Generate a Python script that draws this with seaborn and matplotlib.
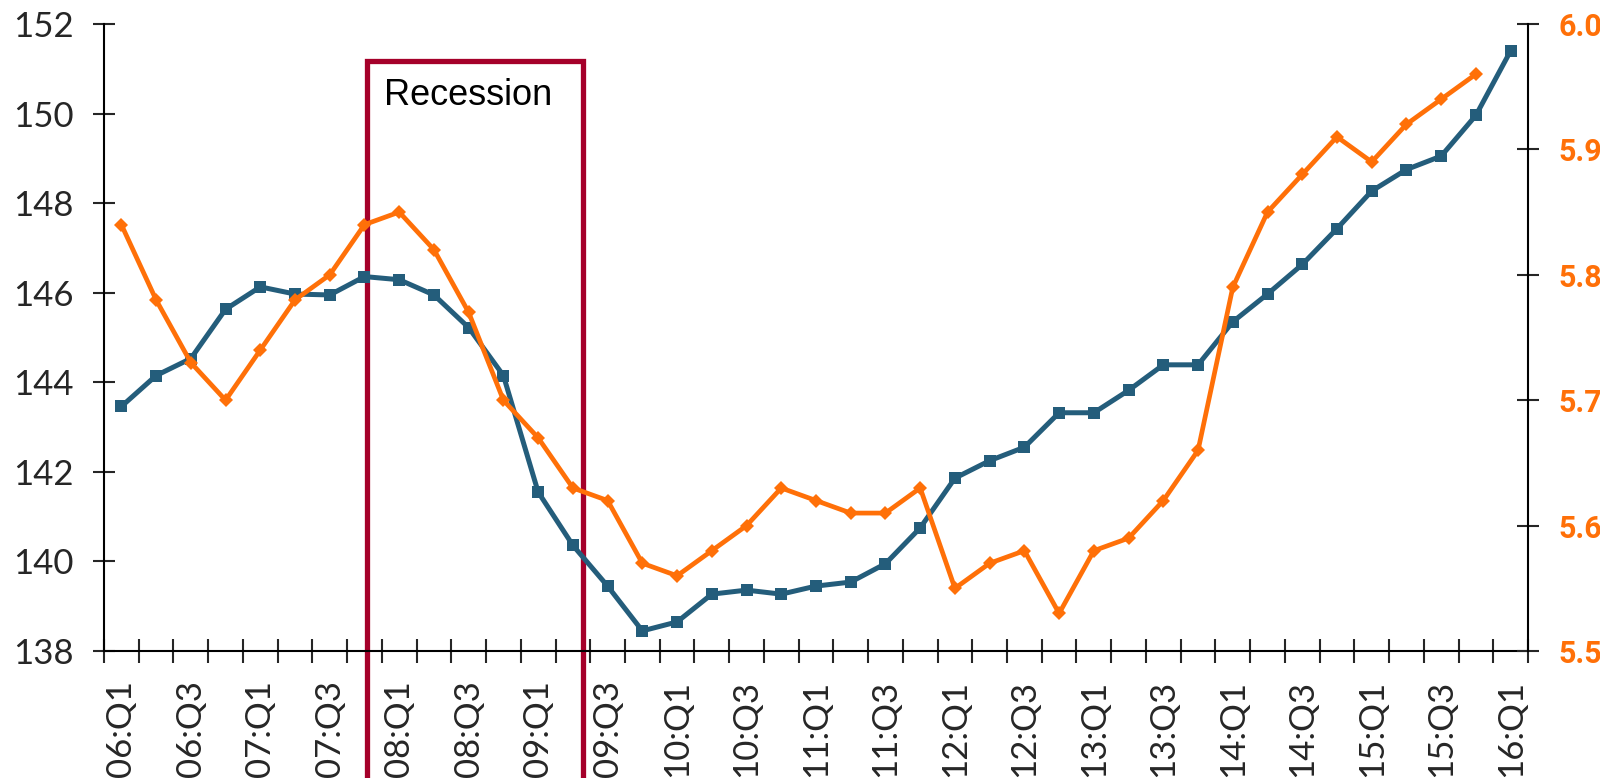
import matplotlib
matplotlib.use("Agg")
import matplotlib.pyplot as plt
import matplotlib.patches as mpatches
from matplotlib.ticker import FixedLocator
import seaborn as sns
import pandas as pd

# quarters 06:Q1 .. 16:Q1
quarters = [f"{y:02d}:Q{q}" for y in range(6, 16) for q in range(1, 5)] + ["16:Q1"]

blue_vals = [143.46, 144.15, 144.53, 145.63, 146.13, 145.97, 145.95, 146.36,
             146.29, 145.95, 145.22, 144.15, 141.55, 140.36, 139.45, 138.45,
             138.65, 139.27, 139.36, 139.27, 139.45, 139.54, 139.95, 140.75,
             141.86, 142.25, 142.55, 143.32, 143.32, 143.82, 144.39, 144.39,
             145.35, 145.97, 146.63, 147.43, 148.27, 148.75, 149.05, 149.96,
             151.40]

orange_vals = [5.84, 5.78, 5.73, 5.70, 5.74, 5.78, 5.80, 5.84,
               5.85, 5.82, 5.77, 5.70, 5.67, 5.63, 5.62, 5.57,
               5.56, 5.58, 5.60, 5.63, 5.62, 5.61, 5.61, 5.63,
               5.55, 5.57, 5.58, 5.53, 5.58, 5.59, 5.62, 5.66,
               5.79, 5.85, 5.88, 5.91, 5.89, 5.92, 5.94, 5.96]

left_ticks = [138, 140, 142, 144, 146, 148, 150, 152]
right_ticks = [5.5, 5.6, 5.7, 5.8, 5.9, 6.0]

recession_start, recession_end = "07:Q4", "09:Q2"

BLUE = "#245D7B"
ORANGE = "#FF7008"
RED = "#A5002A"

sns.set_style("ticks")
plt.rcParams['font.family'] = ['Lato', 'DejaVu Sans']

df_b = pd.DataFrame({"pos": range(len(blue_vals)), "val": blue_vals})
df_o = pd.DataFrame({"pos": range(len(orange_vals)), "val": orange_vals})

fig = plt.figure(figsize=(16, 7.78), dpi=100)
ax = fig.add_axes([0.065, 0.1632, 0.89, 0.806])
ax2 = ax.twinx()

sns.lineplot(data=df_b, x="pos", y="val", ax=ax, color=BLUE, linewidth=3.6,
             marker="s", markersize=9, markeredgewidth=0, zorder=3)
sns.lineplot(data=df_o, x="pos", y="val", ax=ax2, color=ORANGE, linewidth=3.4,
             marker="D", markersize=7, markeredgewidth=0, zorder=3)

n = len(quarters)
ax.set_xlim(-0.5, n - 0.5)
ax.set_ylim(138, 152)
ax2.set_ylim(5.5, 6.0)

# boundary ticks, labels on every other quarter
ax.xaxis.set_major_locator(FixedLocator([i - 0.5 for i in range(n + 1)]))
ax.xaxis.set_minor_locator(FixedLocator(list(range(0, n, 2))))
ax.set_xticklabels([])
ax.set_xticklabels([quarters[i] for i in range(0, n, 2)], minor=True,
                   rotation=90, fontsize=25)
ax.tick_params(axis="x", which="major", direction="inout", length=17, width=1.5)
ax.tick_params(axis="x", which="minor", length=0, pad=21)

ax.set_yticks(left_ticks)
ax.tick_params(axis="y", direction="inout", length=16, width=1.5, labelsize=25, pad=14)

ax2.set_yticks(right_ticks, labels=[f"{v:.1f}" for v in right_ticks],
               fontweight="bold", fontsize=22, color=ORANGE, family="Roboto")
ax2.tick_params(axis="y", direction="inout", length=16, width=1.5, pad=14)

for a in (ax, ax2):
    a.set_xlabel("")
    a.set_ylabel("")
    a.spines["top"].set_visible(False)
    for s in ("left", "bottom", "right"):
        a.spines[s].set_linewidth(1.5)
        a.spines[s].set_color("black")
ax.spines["right"].set_visible(False)
ax2.spines["left"].set_visible(False)
ax2.spines["bottom"].set_visible(False)

# recession box, running below the axis
x0 = quarters.index(recession_start) + 0.07
x1 = quarters.index(recession_end) + 0.28
box = mpatches.Rectangle((x0, 130), x1 - x0, 151.17 - 130, fill=False,
                         edgecolor=RED, linewidth=3.8, clip_on=False, zorder=2)
ax.add_patch(box)
ax.text(x0 + 0.5, 150.19, "Recession", fontsize=26, family="Liberation Sans",
        ha="left", va="baseline", color="black")

fig.savefig("out.png", dpi=100)
